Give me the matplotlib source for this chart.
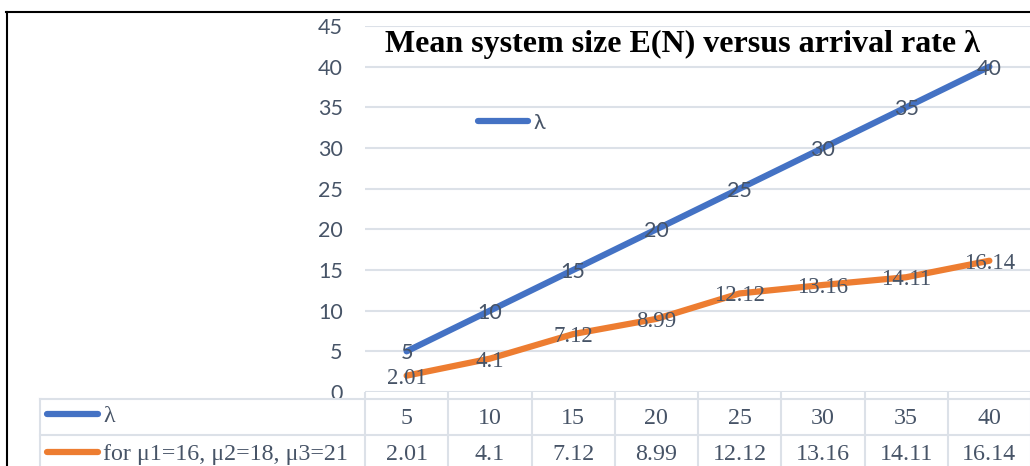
import matplotlib.pyplot as plt
import numpy as np
from matplotlib.lines import Line2D
from matplotlib.transforms import blended_transform_factory

# data
lam = [5, 10, 15, 20, 25, 30, 35, 40]
en = [2.01, 4.1, 7.12, 8.99, 12.12, 13.16, 14.11, 16.14]
row_names = ['λ', 'for μ1=16, μ2=18, μ3=21']
title = 'Mean system size E(N) versus arrival rate λ'
yticks = list(range(0, 50, 5))

W, H = 1030, 466
fig = plt.figure(figsize=(W / 100, H / 100), dpi=100)

def fx(px):
    return px / W

def fy(py):
    return 1 - py / H

blue, orange = '#4472C4', '#ED7D31'
txt = '#475467'
grid_col = '#DCE1E8'
serif = 'Liberation Serif'
sans = 'Lato'

ax = fig.add_axes([fx(365), fy(392), fx(1031) - fx(365), fy(26) - fy(392)])
x = np.arange(len(lam))
l1, = ax.plot(x, lam, color=blue, lw=4.5, solid_capstyle='round',
              solid_joinstyle='round', zorder=3)
l2, = ax.plot(x, en, color=orange, lw=4.5, solid_capstyle='round',
              solid_joinstyle='round', zorder=3)

# data labels, centred on the points
for xi, v in zip(x, lam):
    ax.text(xi, v, f'{v}', ha='center', va='center_baseline', family=sans,
            fontsize=15.5, color=txt, zorder=4)
for xi, v in zip(x, en):
    ax.text(xi, v, f'{v:g}', ha='center', va='center_baseline', family=serif,
            fontsize=16.5, color=txt, zorder=4)

ax.set_xlim(-0.5, len(lam) - 0.5)
ax.set_ylim(0, 45)
ax.set_yticks(yticks)
ax.set_xticks([])
ax.tick_params(axis='y', length=0, pad=16, labelsize=15.5, labelcolor=txt)
for lab in ax.get_yticklabels():
    lab.set_family(sans)
ax.yaxis.grid(True, color=grid_col, lw=1.5)
ax.set_axisbelow(True)
for s in ax.spines.values():
    s.set_visible(False)

ax.legend([l1], ['λ'], loc='center left', bbox_to_anchor=(fx(478), fy(123)),
          bbox_transform=fig.transFigure, frameon=False, borderpad=0,
          borderaxespad=0, handlelength=2.3, handletextpad=0.3,
          prop={'family': sans, 'size': 15.5}, labelcolor=txt)

fig.text(fx(682), fy(44), title, ha='center', va='center', family=serif,
         weight='bold', fontsize=23, color='black')

# data table under the chart
tr = blended_transform_factory(ax.transData, fig.transFigure)
edges = np.arange(len(lam) + 1) - 0.5
ax.vlines(edges, 0, fy(392), transform=tr, colors=grid_col, lw=1.5, clip_on=False)
for yy in (399, 435):
    fig.add_artist(Line2D([fx(40), 1], [fy(yy)] * 2, color=grid_col, lw=1.5))
fig.add_artist(Line2D([fx(40)] * 2, [0, fy(399)], color=grid_col, lw=1.5))

for xi, a, b in zip(x, lam, en):
    ax.text(xi, fy(416), f'{a}', transform=tr, ha='center', va='center_baseline',
            family=serif, fontsize=17.3, color=txt, clip_on=False)
    ax.text(xi, fy(452), f'{b:g}', transform=tr, ha='center', va='center_baseline',
            family=serif, fontsize=17.3, color=txt, clip_on=False)

for yy, col, name in zip((414, 452), (blue, orange), row_names):
    fig.add_artist(Line2D([fx(47), fx(98)], [fy(yy)] * 2, color=col, lw=4.5,
                          solid_capstyle='round'))
    fig.text(fx(103), fy(yy), name, ha='left', va='center_baseline', family=serif,
             fontsize=17.3, color=txt)

# black frame on the left and top
fig.add_artist(Line2D([fx(6.5)] * 2, [0, fy(11.5)], color='black', lw=1.5))
fig.add_artist(Line2D([fx(6), 1], [fy(11.5)] * 2, color='black', lw=1.5))

fig.savefig('out.png', dpi=100)
